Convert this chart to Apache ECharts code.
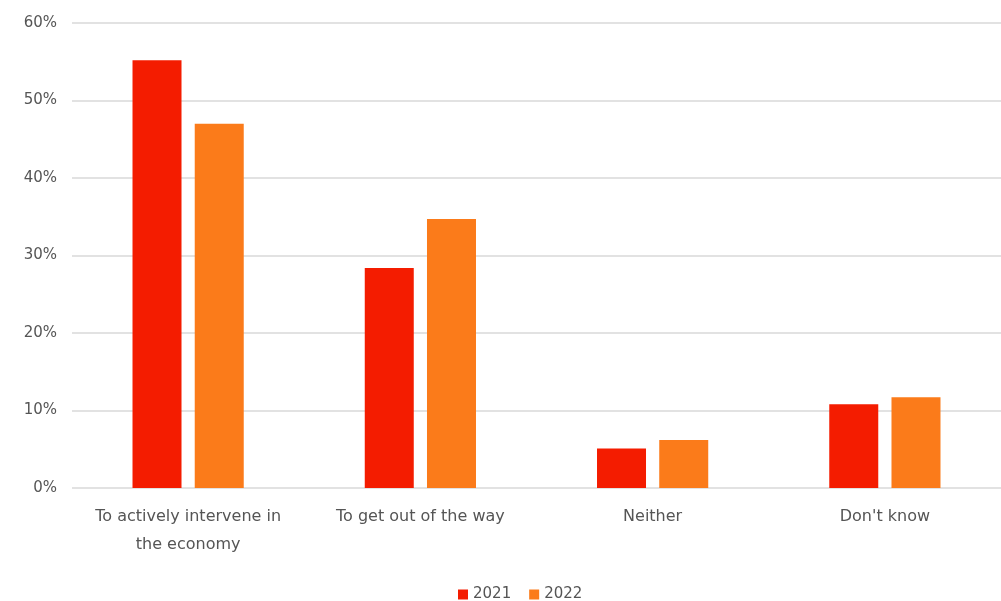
<!DOCTYPE html>
<html><head><meta charset="utf-8">
<script src="https://cdn.jsdelivr.net/npm/echarts@6/dist/echarts.min.js"></script>
<style>html,body{margin:0;padding:0;background:#fff}#c{width:1001px;height:601px}</style>
</head><body><div id="c"></div>
<script>
var categories = ["To actively intervene in\nthe economy", "To get out of the way", "Neither", "Don't know"];
var seriesNames = ["2021", "2022"];
var values2021 = [55.2, 28.4, 5.1, 10.8];
var values2022 = [47.0, 34.7, 6.2, 11.7];
var yTicks = [0, 10, 20, 30, 40, 50, 60];

var chart = echarts.init(document.getElementById('c'), null, {renderer: 'canvas'});
var font = '"DejaVu Sans", "Noto Sans", sans-serif';
chart.setOption({
  animation: false,
  textStyle: {fontFamily: font},
  grid: {left: 72, right: 0, top: 23, bottom: 113},
  legend: {
    data: seriesNames, top: 582, left: 453, itemWidth: 10, itemHeight: 10,
    itemGap: 18, icon: 'rect',
    textStyle: {color: '#555', fontSize: 15, fontFamily: font}
  },
  xAxis: {
    type: 'category', data: categories,
    axisLine: {show: false}, axisTick: {show: false},
    axisLabel: {color: '#555', fontSize: 16, lineHeight: 28, margin: 15, interval: 0, fontFamily: font}
  },
  yAxis: {
    type: 'value', min: yTicks[0], max: yTicks[yTicks.length - 1], interval: 10,
    axisLine: {show: false}, axisTick: {show: false},
    axisLabel: {color: '#555', fontSize: 15, margin: 15, formatter: '{value}%', fontFamily: font},
    splitLine: {lineStyle: {color: '#d9d9d9', width: 1.5}}
  },
  series: [
    {name: seriesNames[0], type: 'bar', data: values2021, barWidth: 49, barGap: '27%', itemStyle: {color: '#F41C00'}},
    {name: seriesNames[1], type: 'bar', data: values2022, barWidth: 49, itemStyle: {color: '#FB7B1A'}}
  ]
});
</script></body></html>
